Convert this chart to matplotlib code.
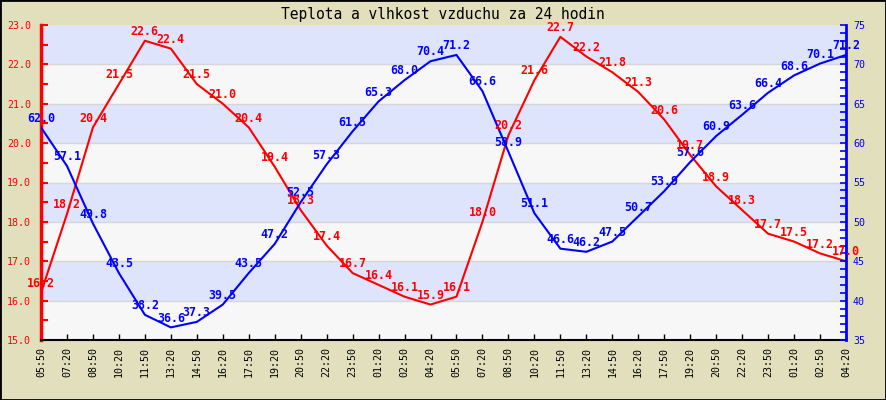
import matplotlib
matplotlib.use("Agg")
import matplotlib.pyplot as plt
from matplotlib.ticker import MultipleLocator

# casy mereni (24 h, po 1.5 h)
times = ['05:50', '07:20', '08:50', '10:20', '11:50', '13:20', '14:50', '16:20',
         '17:50', '19:20', '20:50', '22:20', '23:50', '01:20', '02:50', '04:20',
         '05:50', '07:20', '08:50', '10:20', '11:50', '13:20', '14:50', '16:20',
         '17:50', '19:20', '20:50', '22:20', '23:50', '01:20', '02:50', '04:20']

teplota = [16.2, 18.2, 20.4, 21.5, 22.6, 22.4, 21.5, 21.0, 20.4, 19.4, 18.3, 17.4,
           16.7, 16.4, 16.1, 15.9, 16.1, 18.0, 20.2, 21.6, 22.7, 22.2, 21.8, 21.3,
           20.6, 19.7, 18.9, 18.3, 17.7, 17.5, 17.2, 17.0]

vlhkost = [62.0, 57.1, 49.8, 43.5, 38.2, 36.6, 37.3, 39.5, 43.5, 47.2, 52.5, 57.3,
           61.5, 65.3, 68.0, 70.4, 71.2, 66.6, 58.9, 51.1, 46.6, 46.2, 47.5, 50.7,
           53.9, 57.6, 60.9, 63.6, 66.4, 68.6, 70.1, 71.2]

RED = '#ff0000'
BLUE = '#0000ff'
BG = '#e2e0bc'
MONO = 'DejaVu Sans Mono'

fig = plt.figure(figsize=(8.86, 4.0), dpi=100, facecolor=BG)
fig.patches.append(plt.Rectangle((0, 0), 1, 1, transform=fig.transFigure,
                                 fill=False, edgecolor='black', linewidth=2))
ax = fig.add_axes([41/886, 60/400, 805/886, 315/400])
ax2 = ax.twinx()

x = list(range(len(times)))

# pruhy v pozadi
for lo in range(15, 23):
    c = '#f7f7f7' if (lo - 15) % 2 == 0 else '#dde4fc'
    ax.axhspan(lo, lo + 1, color=c, zorder=0, linewidth=0)
for v in range(16, 23):
    ax.axhline(v, color='#d6d6d6', linewidth=1, zorder=0.5)

ax.plot(x, teplota, color=RED, linewidth=1.5, zorder=2)
ax2.plot(x, vlhkost, color=BLUE, linewidth=1.5, zorder=2)

for i, v in enumerate(vlhkost):
    ax2.annotate(f'{v:.1f}', (i, v), xytext=(0, 2), textcoords='offset points',
                 ha='center', va='bottom', color=BLUE, fontsize=8.4,
                 fontweight='bold', family=MONO, zorder=5, annotation_clip=False)
for i, v in enumerate(teplota):
    ax2.annotate(f'{v:.1f}', (i, 35 + (v - 15) * 5), xytext=(0, 2),
                 textcoords='offset points', ha='center', va='bottom', color=RED,
                 fontsize=8.4, fontweight='bold', family=MONO, zorder=6,
                 annotation_clip=False)

ax.set_xlim(0, len(times) - 1)
ax.set_ylim(15, 23)
ax2.set_ylim(35, 75)

ax.set_xticks(x)
ax.set_xticklabels(times, rotation=90, family=MONO, fontsize=7.2)
ax.tick_params(axis='x', direction='in', length=4, width=1, pad=5, color='black')

ax.yaxis.set_major_locator(MultipleLocator(1))
ax.yaxis.set_minor_locator(MultipleLocator(0.5))
ax.set_yticklabels([f'{v:.1f}' for v in range(15, 24)], family=MONO, fontsize=7.2)
ax.set_yticks(range(15, 24))
ax.set_yticklabels([f'{v:.1f}' for v in range(15, 24)], family=MONO, fontsize=7.2)
ax.tick_params(axis='y', which='both', direction='in', length=5, width=1.5,
               color=RED, labelcolor=RED, pad=7)

ax2.yaxis.set_major_locator(MultipleLocator(5))
ax2.yaxis.set_minor_locator(MultipleLocator(1))
ax2.set_yticks(range(35, 80, 5))
ax2.set_yticklabels([str(v) for v in range(35, 80, 5)], family=MONO, fontsize=7.2)
ax2.tick_params(axis='y', which='both', direction='in', length=4, width=1.2,
                color=BLUE, labelcolor=BLUE, pad=5)

for a in (ax, ax2):
    a.spines['top'].set_visible(False)
ax.spines['left'].set_color(RED)
ax.spines['left'].set_linewidth(2.5)
ax.spines['right'].set_visible(False)
ax2.spines['left'].set_visible(False)
ax2.spines['right'].set_color(BLUE)
ax2.spines['right'].set_linewidth(2)
ax.spines['bottom'].set_linewidth(1.5)
ax2.spines['bottom'].set_visible(False)

ax.set_zorder(1)
ax2.set_zorder(2)
ax.patch.set_visible(False)
ax2.patch.set_visible(False)

fig.text(0.5, 1 - 15/400, 'Teplota a vlhkost vzduchu za 24 hodin', ha='center',
         va='center', family=MONO, fontsize=10.5)

fig.savefig('out.png', dpi=100, facecolor=BG)
